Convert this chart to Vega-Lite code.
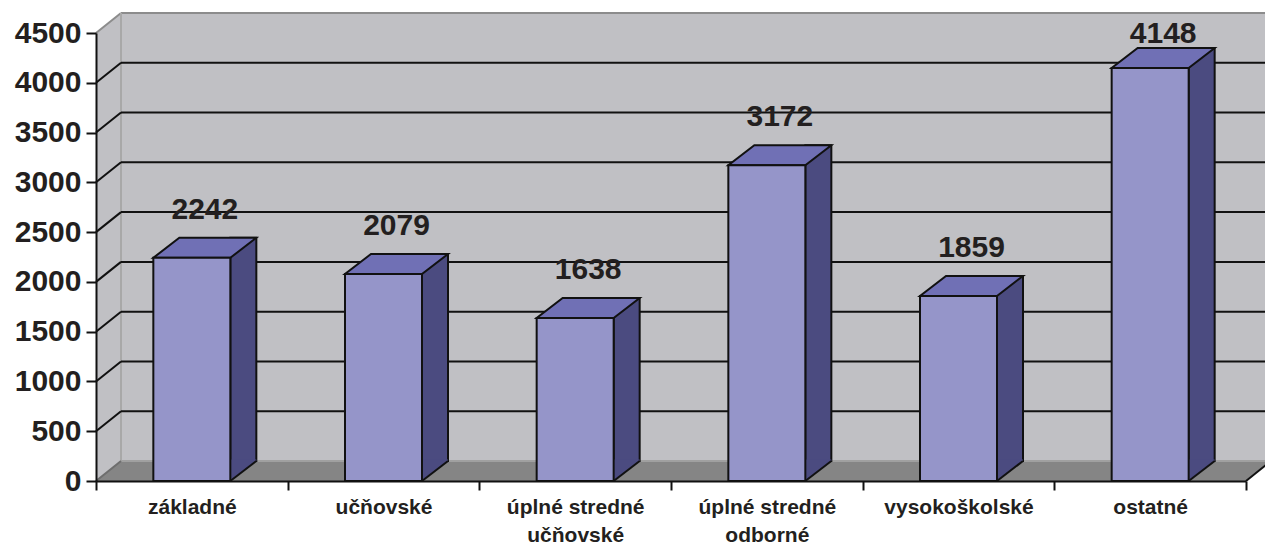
{
  "$schema": "https://vega.github.io/schema/vega-lite/v6.json",
  "width": 1150,
  "height": 448,
  "autosize": {"type": "none"},
  "padding": {"left": 96, "top": 33, "right": 19, "bottom": 64},
  "background": "white",
  "config": {"view": {"stroke": null}, "font": "Liberation Sans"},
  "data": {"values": [
    {"kategoria": "základné", "pocet": 2242},
    {"kategoria": "učňovské", "pocet": 2079},
    {"kategoria": "úplné stredné učňovské", "pocet": 1638},
    {"kategoria": "úplné stredné odborné", "pocet": 3172},
    {"kategoria": "vysokoškolské", "pocet": 1859},
    {"kategoria": "ostatné", "pocet": 4148}
  ]},
  "layer": [
    {
      "data": {"values": [{}]},
      "mark": {"type": "rect", "fill": "#c0c0c4", "x2Offset": 25, "yOffset": -20},
      "encoding": {
        "x": {"value": 0}, "x2": {"value": "width"},
        "y": {"datum": 4500, "type": "quantitative"}, "y2": {"datum": 0}
      }
    },
    {
      "data": {"values": [{}]},
      "mark": {"type": "point", "shape": "M0,0 L-3,0 L-3,-23 L26,-23 L25,-20 Z", "size": 4, "filled": true, "fill": "white", "opacity": 1, "strokeWidth": 0},
      "encoding": {"x": {"value": 0}, "y": {"datum": 4500, "type": "quantitative"}}
    },
    {
      "data": {"values": [{}]},
      "mark": {"type": "rule", "color": "#8c8c8c", "strokeWidth": 2, "xOffset": 25, "x2Offset": 25, "yOffset": -20},
      "encoding": {"x": {"value": 0}, "x2": {"value": "width"}, "y": {"datum": 4500, "type": "quantitative"}}
    },
    {
      "data": {"values": [{}]},
      "mark": {"type": "rule", "color": "#8c8c8c", "strokeWidth": 2, "x2Offset": 25, "y2Offset": -20},
      "encoding": {"x": {"value": 0}, "x2": {"value": 0}, "y": {"datum": 4500, "type": "quantitative"}, "y2": {"datum": 4500}}
    },
    {
      "data": {"values": [{}]},
      "mark": {"type": "rule", "color": "#a8a8a8", "strokeWidth": 2, "xOffset": 25, "yOffset": -20, "y2Offset": -20},
      "encoding": {"x": {"value": 0}, "y": {"datum": 4500, "type": "quantitative"}, "y2": {"datum": 0}}
    },
    {
      "data": {"values": [{"v": 500}, {"v": 1000}, {"v": 1500}, {"v": 2000}, {"v": 2500}, {"v": 3000}, {"v": 3500}, {"v": 4000}]},
      "mark": {"type": "rule", "color": "#111111", "strokeWidth": 2, "xOffset": 25, "x2Offset": 25, "yOffset": -20},
      "encoding": {"x": {"value": 0}, "x2": {"value": "width"}, "y": {"field": "v", "type": "quantitative", "axis": {"title": null}}}
    },
    {
      "data": {"values": [{"v": 500}, {"v": 1000}, {"v": 1500}, {"v": 2000}, {"v": 2500}, {"v": 3000}, {"v": 3500}, {"v": 4000}]},
      "mark": {"type": "rule", "color": "#111111", "strokeWidth": 2, "x2Offset": 25, "y2Offset": -20},
      "encoding": {"x": {"value": 0}, "x2": {"value": 0}, "y": {"field": "v", "type": "quantitative", "axis": {"title": null}}, "y2": {"field": "v"}}
    },
    {
      "data": {"values": [{}]},
      "mark": {"type": "rect", "fill": "#858585", "xOffset": 25, "yOffset": -20},
      "encoding": {"x": {"value": 0}, "x2": {"value": "width"}, "y": {"datum": 0, "type": "quantitative"}, "y2": {"datum": 0}}
    },
    {
      "data": {"values": [{}]},
      "mark": {"type": "point", "shape": "M0,0 L25,-20 L26,-20 L26,1 L0,1 Z", "size": 4, "filled": true, "fill": "#858585", "opacity": 1, "strokeWidth": 0},
      "encoding": {"x": {"value": 0}, "y": {"datum": 0, "type": "quantitative"}}
    },
    {
      "data": {"values": [{}]},
      "mark": {"type": "point", "shape": "M-1,0 L-1,-20 L25,-20 L0,0 Z", "size": 4, "filled": true, "fill": "#858585", "opacity": 1, "strokeWidth": 0},
      "encoding": {"x": {"value": "width"}, "y": {"datum": 0, "type": "quantitative"}}
    },
    {
      "data": {"values": [{}]},
      "mark": {"type": "point", "shape": "M0,0 L25,-20 L30,-20 L30,4 L1,4 L1,0 Z", "size": 4, "filled": true, "fill": "white", "opacity": 1, "strokeWidth": 0},
      "encoding": {"x": {"value": "width"}, "y": {"datum": 0, "type": "quantitative"}}
    },
    {
      "data": {"values": [{}]},
      "mark": {"type": "rule", "color": "#a0a0a0", "strokeWidth": 2, "xOffset": 25, "x2Offset": 25, "yOffset": -20},
      "encoding": {"x": {"value": 0}, "x2": {"value": "width"}, "y": {"datum": 0, "type": "quantitative"}}
    },
    {
      "data": {"values": [{}]},
      "mark": {"type": "rule", "color": "#6e6e6e", "strokeWidth": 2, "x2Offset": 25, "y2Offset": -20},
      "encoding": {"x": {"value": 0}, "x2": {"value": 0}, "y": {"datum": 0, "type": "quantitative"}, "y2": {"datum": 0}}
    },
    {
      "data": {"values": [{}]},
      "mark": {"type": "rule", "color": "#111111", "strokeWidth": 2, "x2Offset": 25, "y2Offset": -20},
      "encoding": {"x": {"value": "width"}, "x2": {"value": "width"}, "y": {"datum": 0, "type": "quantitative"}, "y2": {"datum": 0}}
    },
    {
      "mark": {"type": "bar", "width": 26, "xOffset": 51.5, "yOffset": -20, "y2Offset": -20, "fill": "#4b4b80", "stroke": "#111111", "strokeWidth": 2},
      "encoding": {
        "x": {"field": "kategoria", "type": "nominal", "sort": null},
        "y": {"field": "pocet", "type": "quantitative"},
        "y2": {"datum": 0}
      }
    },
    {
      "mark": {"type": "point", "shape": "M38.5,-21.5 L38.5,0 L64.5,-20 L64.5,-21.5 Z", "size": 4, "filled": true, "fill": "#4b4b80", "opacity": 1, "strokeWidth": 0},
      "encoding": {
        "x": {"field": "kategoria", "type": "nominal", "sort": null, "bandPosition": 0.5},
        "y": {"datum": 0, "type": "quantitative"}
      }
    },
    {
      "mark": {"type": "point", "shape": "M38.5,0 L64.5,-20", "size": 4, "filled": false, "stroke": "#111111", "opacity": 1, "strokeWidth": 2},
      "encoding": {
        "x": {"field": "kategoria", "type": "nominal", "sort": null, "bandPosition": 0.5},
        "y": {"datum": 0, "type": "quantitative"}
      }
    },
    {
      "mark": {"type": "point", "shape": "M-38.5,0 L38.5,0 L64.5,-20 L-12.5,-20 Z", "size": 4, "filled": true, "fill": "#7070b5", "stroke": "#111111", "opacity": 1, "strokeWidth": 2, "strokeJoin": "miter"},
      "encoding": {
        "x": {"field": "kategoria", "type": "nominal", "sort": null, "bandPosition": 0.5},
        "y": {"field": "pocet", "type": "quantitative"}
      }
    },
    {
      "mark": {"type": "bar", "width": 77, "fill": "#9595c9", "stroke": "#111111", "strokeWidth": 2},
      "encoding": {
        "x": {
          "field": "kategoria", "type": "nominal", "sort": null,
          "scale": {"type": "band", "domain": ["základné", "učňovské", "úplné stredné učňovské", "úplné stredné odborné", "vysokoškolské", "ostatné"], "paddingInner": 0, "paddingOuter": 0},
          "axis": {
            "title": null, "tickBand": "extent", "tickSize": 9, "tickWidth": 2, "tickColor": "#111111",
            "domainColor": "#111111", "domainWidth": 2, "labelFontSize": 21, "labelFontWeight": "bold",
            "labelColor": "#231f20", "labelFont": "Liberation Sans", "labelAngle": 0, "labelAlign": "center", "labelPadding": 23,
            "labelBaseline": "alphabetic", "labelLineHeight": 28, "labelOverlap": false, "labelLimit": 0, "zindex": 1,
            "labelExpr": "indexof(datum.label, 'úplné stredné ') == 0 ? ['úplné stredné', substring(datum.label, 14)] : datum.label"
          }
        },
        "y": {
          "field": "pocet", "type": "quantitative",
          "scale": {"domain": [0, 4500], "nice": false, "zero": true},
          "axis": {
            "title": null, "values": [0, 500, 1000, 1500, 2000, 2500, 3000, 3500, 4000, 4500], "grid": false,
            "tickSize": 10, "tickWidth": 2, "tickColor": "#111111", "domainColor": "#111111", "domainWidth": 2,
            "labelFontSize": 30, "labelFontWeight": "bold", "labelColor": "#231f20", "labelFont": "Liberation Sans",
            "labelPadding": 5, "labelFlush": false, "labelOverlap": false, "format": "d", "zindex": 1
          }
        }
      }
    },
    {
      "mark": {"type": "text", "dx": 13, "dy": {"expr": "max(-39, 10 - scale('y', datum.pocet))"}, "fontSize": 30, "fontWeight": "bold", "font": "Liberation Sans", "color": "#231f20", "baseline": "alphabetic", "align": "center"},
      "encoding": {
        "x": {"field": "kategoria", "type": "nominal", "sort": null, "bandPosition": 0.5},
        "y": {"field": "pocet", "type": "quantitative"},
        "text": {"field": "pocet", "type": "quantitative", "format": "d"}
      }
    }
  ]
}
